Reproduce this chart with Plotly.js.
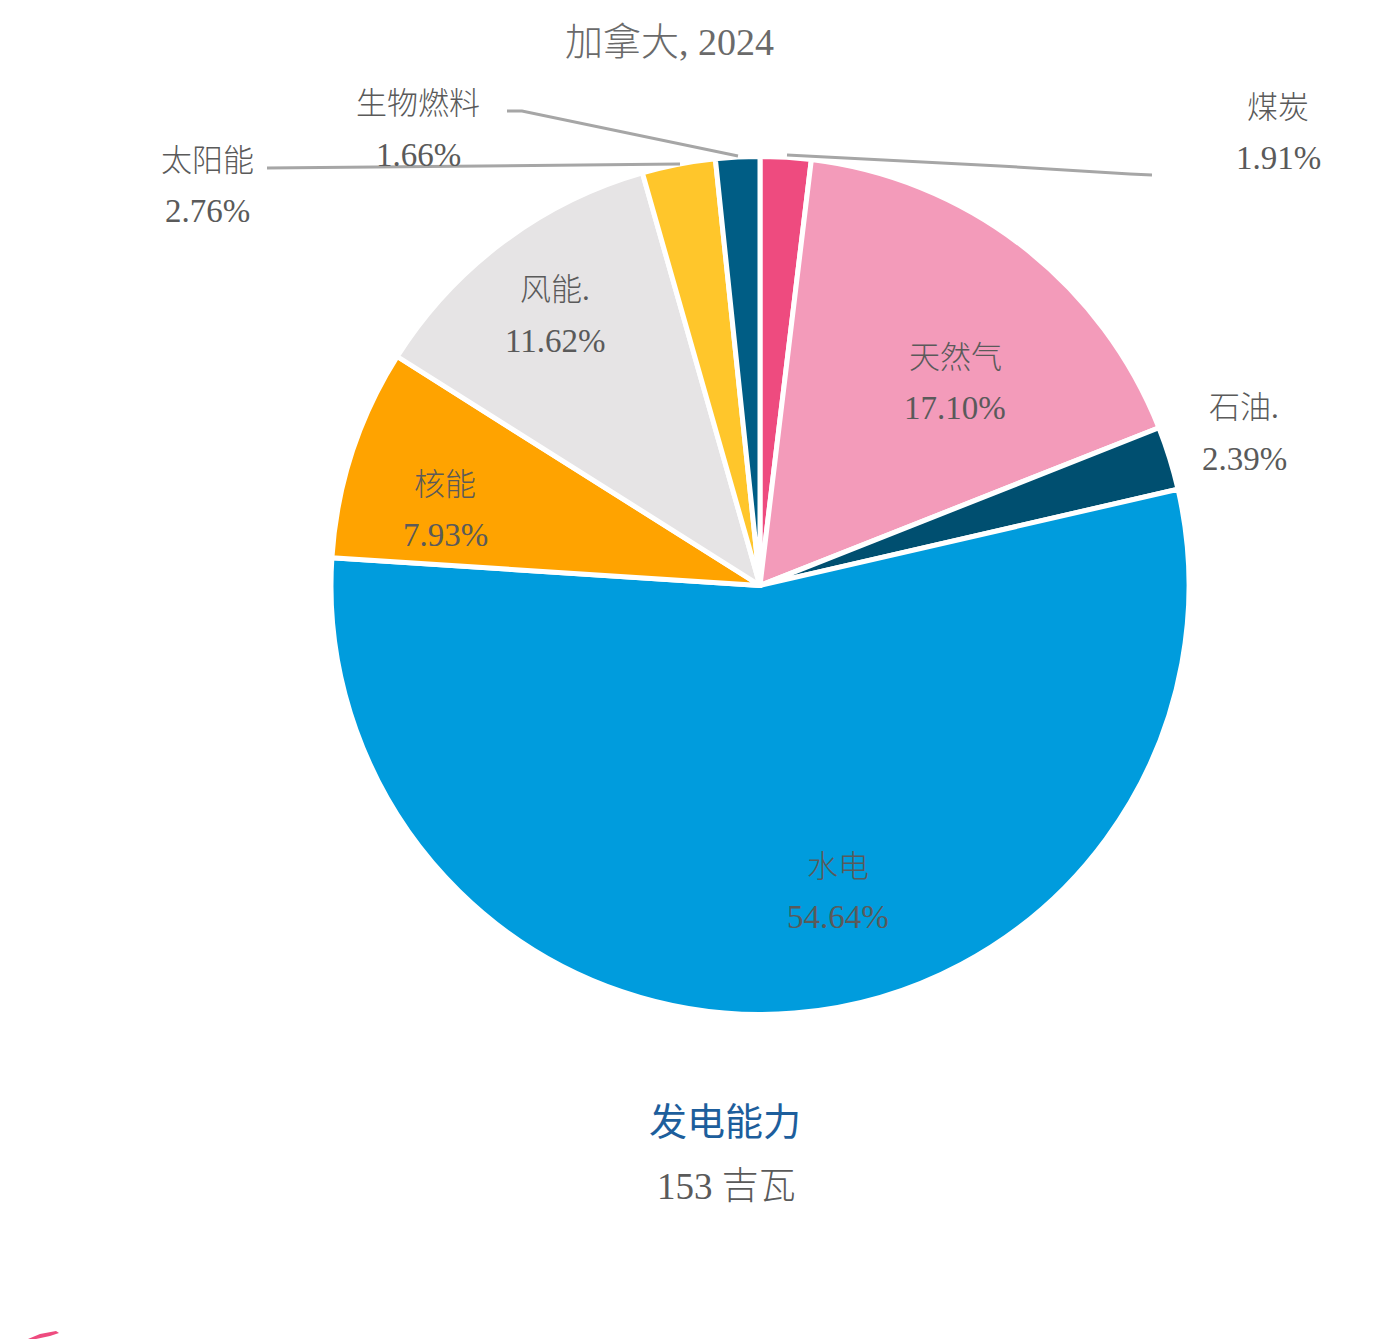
<!DOCTYPE html>
<html>
<head>
<meta charset="utf-8">
<script src="https://cdn.plot.ly/plotly-3.0.1.min.js"></script>
<style>html,body{margin:0;padding:0;background:#fff;}#chart{width:1377px;height:1339px;}</style>
</head>
<body>
<div id="chart"></div>
<script>
// ---- data ----
const categories = ["煤炭", "天然气", "石油.", "水电", "核能", "风能.", "太阳能", "生物燃料"];
const shares = [1.91, 17.10, 2.39, 54.64, 7.93, 11.62, 2.76, 1.66];
const colors = ["#EE4B7F", "#F39BBA", "#004F70", "#009CDD", "#FFA300", "#E6E4E5", "#FFC62B", "#005D85"];
const titleText = "加拿大, 2024";
const capacityLabel = "发电能力";
const capacityValue = "153 吉瓦";

// ---- layout helpers (pixel positions of label centres) ----
const W = 1377, H = 1339;
const labelPos = [
  [1278, 107], [955, 357], [1244, 408], [838, 866],
  [445, 484], [555, 290], [207, 160], [418, 104]
];
const lineGap = 51;
const px = x => x / W;
const py = y => 1 - y / H;

const serif = "Liberation Serif, Noto Sans CJK SC, serif";
const textGray = "#5a5a5a";
const annotations = [];
categories.forEach((c, i) => {
  const [x, y] = labelPos[i];
  annotations.push({xref: "paper", yref: "paper", x: px(x), y: py(y), xanchor: "center", yanchor: "middle",
    text: c, showarrow: false, font: {family: serif, size: 31, color: textGray, weight: 300}});
  annotations.push({xref: "paper", yref: "paper", x: px(x), y: py(y + lineGap), xanchor: "center", yanchor: "middle",
    text: shares[i].toFixed(2) + "%", showarrow: false, font: {family: serif, size: 33, color: textGray}});
});
annotations.push({xref: "paper", yref: "paper", x: px(669), y: py(42), xanchor: "center", yanchor: "middle",
  text: titleText, showarrow: false, font: {family: serif, size: 38, color: "#6a6a6a", weight: 300}});
annotations.push({xref: "paper", yref: "paper", x: px(725), y: py(1118), xanchor: "center", yanchor: "middle",
  text: capacityLabel, showarrow: false, font: {family: "Noto Sans CJK SC, sans-serif", size: 38, color: "#1D5E9C"}});
annotations.push({xref: "paper", yref: "paper", x: px(726), y: py(1186), xanchor: "center", yanchor: "middle",
  text: capacityValue, showarrow: false, font: {family: serif, size: 37, color: textGray, weight: 300}});

function pathOf(pts) {
  return pts.map((p, i) => (i ? "L" : "M") + px(p[0]).toFixed(5) + "," + py(p[1]).toFixed(5)).join(" ");
}
const leaderStyle = {color: "#A6A6A6", width: 3};
const shapes = [
  {type: "path", xref: "paper", yref: "paper", path: pathOf([[507, 111], [522, 111], [738, 156]]), line: leaderStyle},
  {type: "path", xref: "paper", yref: "paper", path: pathOf([[267, 168], [680, 164]]), line: leaderStyle},
  {type: "path", xref: "paper", yref: "paper", path: pathOf([[787, 155], [1000, 166], [1130, 174], [1152, 175]]), line: leaderStyle},
  {type: "path", xref: "paper", yref: "paper", path: pathOf([[28, 1339], [40, 1334], [56, 1331], [59, 1333], [50, 1336], [36, 1339]]),
    fillcolor: "#EE4B7F", line: {width: 0}}
];

const cx = 760, cy = 585.5, r = 429;
const trace = {
  type: "pie",
  labels: categories,
  values: shares,
  sort: false,
  direction: "clockwise",
  rotation: 0,
  textinfo: "none",
  hoverinfo: "label+percent",
  marker: {colors: colors, line: {color: "#ffffff", width: 5}},
  domain: {x: [px(cx - r), px(cx + r)], y: [py(cy + r), py(cy - r)]},
  showlegend: false
};

const layout = {
  width: W, height: H,
  margin: {l: 0, r: 0, t: 0, b: 0},
  paper_bgcolor: "#ffffff",
  showlegend: false,
  annotations: annotations,
  shapes: shapes
};
Plotly.newPlot("chart", [trace], layout, {displayModeBar: false, staticPlot: true});
</script>
</body>
</html>
